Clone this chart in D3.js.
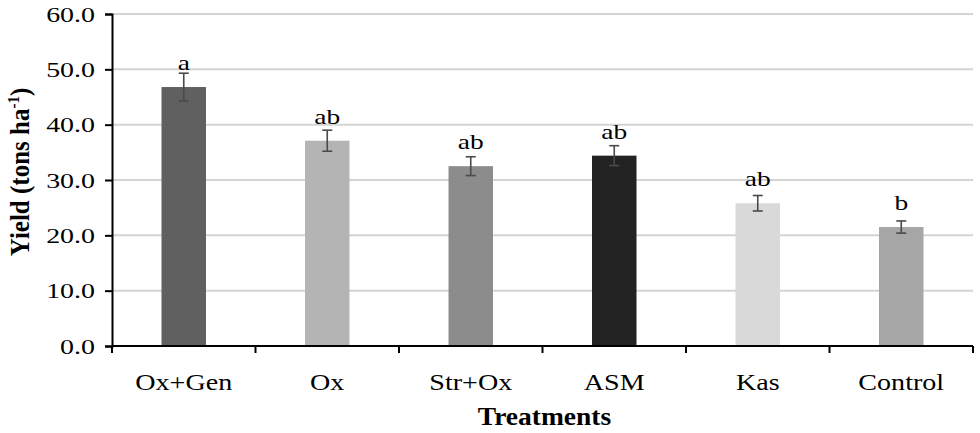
<!DOCTYPE html>
<html>
<head>
<meta charset="utf-8">
<script src="https://cdn.jsdelivr.net/npm/d3@7"></script>
<style>
  body { margin: 0; background: #fff; }
</style>
</head>
<body>
<svg id="chart" width="980" height="433"></svg>
<script>
const treatments = ["Ox+Gen", "Ox", "Str+Ox", "ASM", "Kas", "Control"]
const yieldMeans = [46.8, 37.1, 32.5, 34.4, 25.8, 21.5]
const yieldErrors = [2.5, 1.9, 1.7, 1.8, 1.4, 1.1]
const groupLetters = ["a", "ab", "ab", "ab", "ab", "b"]
const barColors = ["#606060", "#b4b4b4", "#8c8c8c", "#222222", "#d9d9d9", "#a6a6a6"]
const yTicks = [0, 10, 20, 30, 40, 50, 60]

const serif = "'Liberation Serif', 'Times New Roman', serif"
const margin = { top: 14, right: 7, bottom: 87, left: 112 }
const width = 980 - margin.left - margin.right
const height = 433 - margin.top - margin.bottom

const svg = d3.select("#chart")
const g = svg.append("g").attr("transform", `translate(${margin.left},${margin.top})`)

const x = d3.scaleBand().domain(treatments).range([0, width]).paddingInner(0.69).paddingOuter(0.345)
const y = d3.scaleLinear().domain([0, 60]).range([height, 0])

// the original picture is a bit wider than tall, so text is stretched sideways
const stretchText = (sel, px, py, sx) =>
  sel.attr("transform", `translate(${px},${py}) scale(${sx},1)`)

// gridlines
g.selectAll("line.grid")
  .data(yTicks.filter((d) => d > 0))
  .enter()
  .append("line")
  .attr("class", "grid")
  .attr("x1", 0)
  .attr("x2", width)
  .attr("y1", (d) => y(d))
  .attr("y2", (d) => y(d))
  .attr("stroke", "#d4d4d4")
  .attr("stroke-width", 2)

// bars
g.selectAll("rect.bar")
  .data(yieldMeans)
  .enter()
  .append("rect")
  .attr("class", "bar")
  .attr("x", (d, i) => x(treatments[i]))
  .attr("y", (d) => y(d))
  .attr("width", x.bandwidth())
  .attr("height", (d) => height - y(d))
  .attr("fill", (d, i) => barColors[i])

// error bars
const cx = (i) => x(treatments[i]) + x.bandwidth() / 2
const err = g.selectAll("g.err")
  .data(yieldMeans)
  .enter()
  .append("g")
  .attr("class", "err")
  .attr("stroke", "#4a4a4a")
  .attr("stroke-width", 1.6)
err.append("line")
  .attr("x1", (d, i) => cx(i)).attr("x2", (d, i) => cx(i))
  .attr("y1", (d, i) => y(d + yieldErrors[i])).attr("y2", (d, i) => y(d - yieldErrors[i]))
err.append("line")
  .attr("x1", (d, i) => cx(i) - 5).attr("x2", (d, i) => cx(i) + 5)
  .attr("y1", (d, i) => y(d + yieldErrors[i])).attr("y2", (d, i) => y(d + yieldErrors[i]))
err.append("line")
  .attr("x1", (d, i) => cx(i) - 5).attr("x2", (d, i) => cx(i) + 5)
  .attr("y1", (d, i) => y(d - yieldErrors[i])).attr("y2", (d, i) => y(d - yieldErrors[i]))

// letters
g.selectAll("text.letter")
  .data(groupLetters)
  .enter()
  .append("text")
  .attr("class", "letter")
  .attr("text-anchor", "middle")
  .style("font-family", serif)
  .style("font-size", "22px")
  .attr("fill", "#000")
  .text((d) => d)
  .each(function (d, i) {
    stretchText(d3.select(this), cx(i), y(yieldMeans[i]) - 17, 1.25)
  })

// y axis
const yAxis = g.append("g")
  .call(d3.axisLeft(y).tickValues(yTicks).tickFormat(d3.format(".1f")).tickSize(7).tickPadding(7))
yAxis.select(".domain").attr("stroke", "#000").attr("stroke-width", 2)
yAxis.selectAll(".tick line").attr("stroke", "#000").attr("stroke-width", 2)
yAxis.selectAll(".tick text")
  .style("font-family", serif)
  .style("font-size", "22px")
  .attr("fill", "#000")
  .attr("x", -17 / 1.27)
  .attr("transform", "scale(1.27,1)")

// x axis
const xAxis = g.append("g").attr("transform", `translate(0,${height})`)
xAxis.append("line").attr("x1", 0).attr("x2", width).attr("stroke", "#000").attr("stroke-width", 2)
const step = x.step()
xAxis.selectAll("line.xt")
  .data(d3.range(treatments.length + 1))
  .enter()
  .append("line")
  .attr("class", "xt")
  .attr("x1", (d) => d * step).attr("x2", (d) => d * step)
  .attr("y1", 0).attr("y2", 7)
  .attr("stroke", "#000").attr("stroke-width", 2)
xAxis.selectAll("text.xl")
  .data(treatments)
  .enter()
  .append("text")
  .attr("class", "xl")
  .attr("text-anchor", "middle")
  .style("font-family", serif)
  .style("font-size", "24px")
  .attr("fill", "#000")
  .text((d) => d)
  .each(function (d) {
    stretchText(d3.select(this), x(d) + x.bandwidth() / 2, 44, 1.17)
  })

// axis titles
svg.append("text")
  .attr("text-anchor", "middle")
  .style("font-family", serif)
  .style("font-size", "25px")
  .style("font-weight", "bold")
  .attr("fill", "#000")
  .text("Treatments")
  .call(stretchText, margin.left + width / 2 + 2, 425, 1.1)

const yt = svg.append("text")
  .attr("transform", `translate(29,172) rotate(-90) scale(1,1.12)`)
  .attr("text-anchor", "middle")
  .style("font-family", serif)
  .style("font-size", "25px")
  .style("font-weight", "bold")
  .attr("fill", "#000")
yt.append("tspan").text("Yield (tons ha")
yt.append("tspan").attr("dy", -9).style("font-size", "15px").text("-1")
yt.append("tspan").attr("dy", 9).text(")")
</script>
</body>
</html>
